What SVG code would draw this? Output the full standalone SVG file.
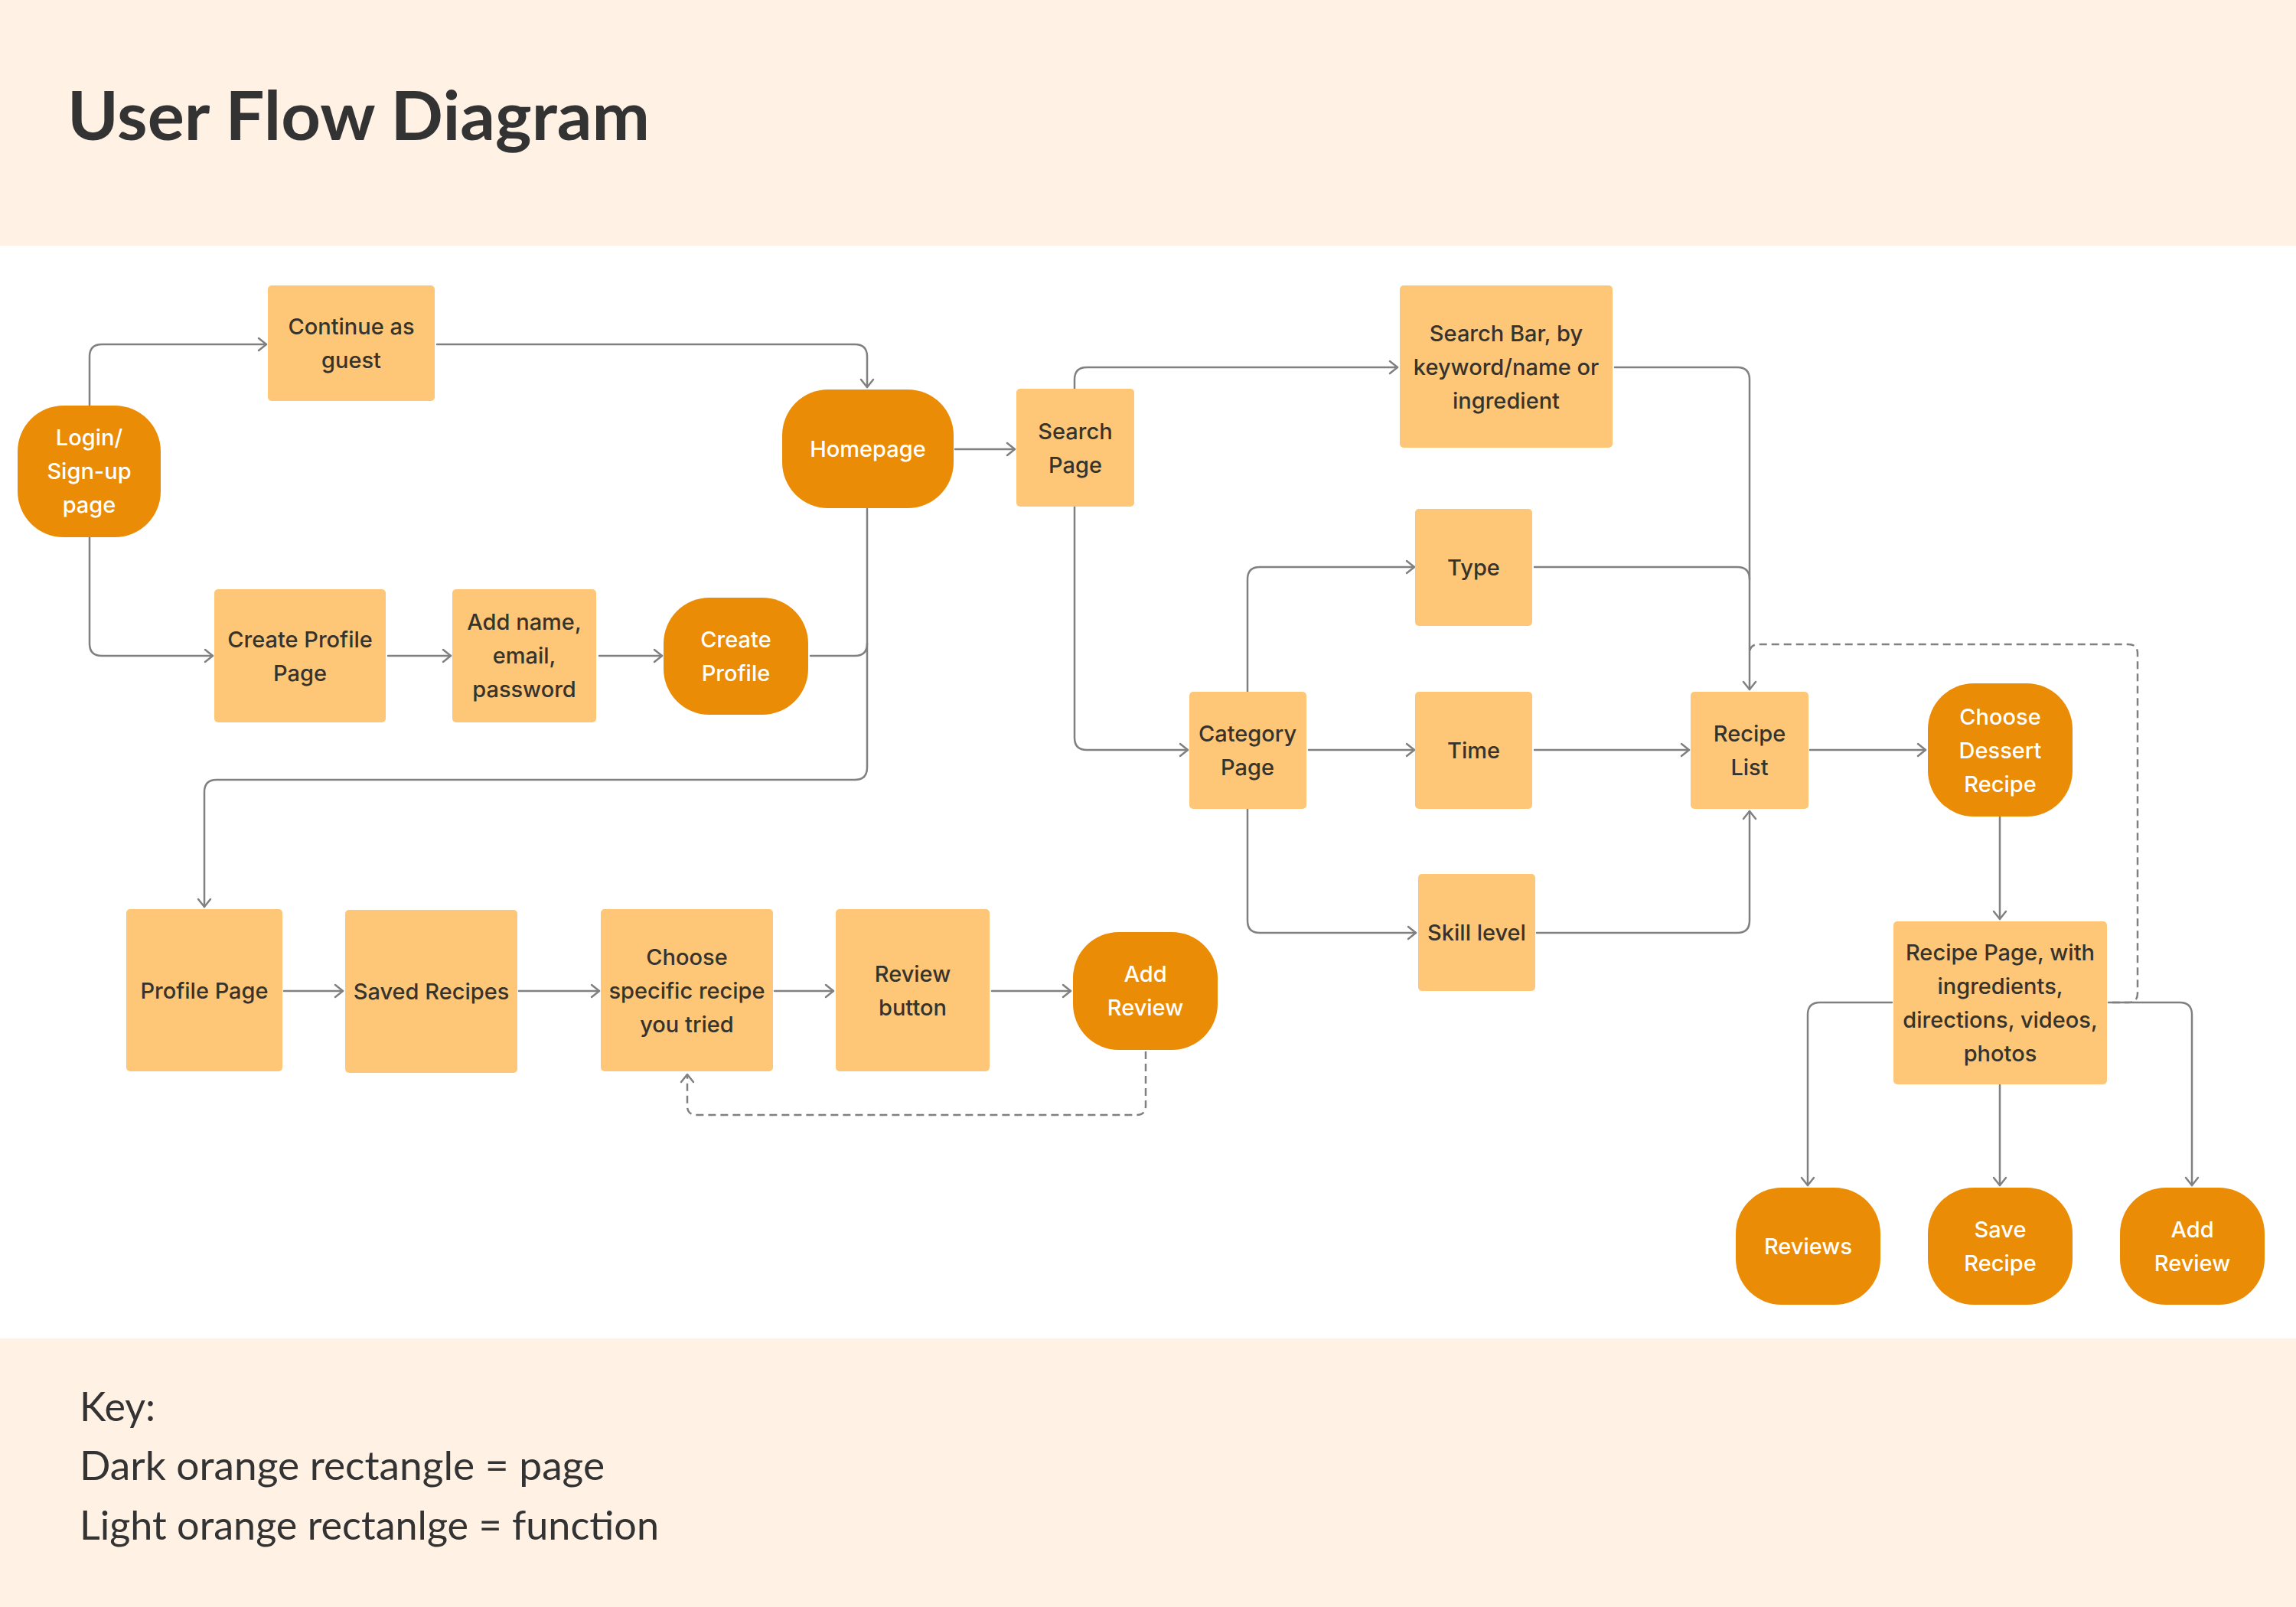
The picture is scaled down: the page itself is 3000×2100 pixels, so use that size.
<svg xmlns="http://www.w3.org/2000/svg" width="3000" height="2100" viewBox="0 0 3000 2100">
<defs>
<style>
.band{fill:#FFF1E3}
.dark{fill:#EA8C05}
.light{fill:#FEC778}
.tl{font-family:Inter,"Liberation Sans",sans-serif;font-size:29px;font-weight:500;fill:#36332c;text-anchor:middle}
.td{font-family:Inter,"Liberation Sans",sans-serif;font-size:29px;font-weight:500;fill:#ffffff;text-anchor:middle}
.c{fill:none;stroke:#808080;stroke-width:2.5;stroke-linecap:round;stroke-linejoin:round}
.arr{marker-end:url(#ah)}
.dash{stroke-dasharray:10 6;stroke-linecap:butt}
.title{font-family:Lato,"Liberation Sans",sans-serif;font-size:88px;font-weight:700;fill:#333333}
.key{font-family:Lato,"Liberation Sans",sans-serif;font-size:52px;font-weight:400;fill:#333333}
</style>
<marker id="ah" markerUnits="userSpaceOnUse" viewBox="-14 -12 18 24" markerWidth="18" markerHeight="24" refX="0" refY="0" orient="auto">
<path d="M-10,-8 L0,0 L-10,8" fill="none" stroke="#808080" stroke-width="2.5" stroke-linecap="round" stroke-linejoin="round"/>
</marker>
</defs>
<rect x="0" y="0" width="3000" height="2100" fill="#ffffff"/>
<rect class="band" x="0" y="0" width="3000" height="321"/>
<rect class="band" x="0" y="1749" width="3000" height="351"/>
<text class="title" x="88" y="183" textLength="761" lengthAdjust="spacingAndGlyphs">User Flow Diagram</text>
<g id="key">
<text class="key" x="104" y="1857">Key:</text>
<text class="key" x="104" y="1934" textLength="686" lengthAdjust="spacingAndGlyphs">Dark orange rectangle = page</text>
<text class="key" x="104" y="2012" textLength="757" lengthAdjust="spacingAndGlyphs">Light orange rectanlge = function</text>
</g>

<g id="connectors">
<path class="c arr" d="M117,530 V466 Q117,450 133,450 H348"/>
<path class="c arr" d="M571,450 H1117 Q1133,450 1133,466 V506"/>
<path class="c arr" d="M117,702 V841 Q117,857 133,857 H278"/>
<path class="c arr" d="M507,857 H589"/>
<path class="c arr" d="M783,857 H865"/>
<path class="c" d="M1059,857 H1117 Q1133,857 1133,841"/>
<path class="c arr" d="M1133,665 V1003 Q1133,1019 1117,1019 H283 Q267,1019 267,1035 V1185"/>
<path class="c arr" d="M371,1295 H448"/>
<path class="c arr" d="M678,1295 H783"/>
<path class="c arr" d="M1012,1295 H1089"/>
<path class="c arr" d="M1296,1295 H1399"/>
<path class="c dash arr" d="M1497,1374 V1445 Q1497,1457 1485,1457 H910 Q898,1457 898,1445 V1404"/>
<path class="c arr" d="M1248,587 H1326"/>
<path class="c arr" d="M1404,508 V496 Q1404,480 1420,480 H1826"/>
<path class="c arr" d="M2110,480 H2270 Q2286,480 2286,496 V901"/>
<path class="c arr" d="M1404,662 V964 Q1404,980 1420,980 H1552"/>
<path class="c arr" d="M1630,904 V757 Q1630,741 1646,741 H1848"/>
<path class="c arr" d="M1710,980 H1848"/>
<path class="c arr" d="M1630,1057 V1203 Q1630,1219 1646,1219 H1850"/>
<path class="c" d="M2005,741 H2270 Q2286,741 2286,757"/>
<path class="c arr" d="M2005,980 H2207"/>
<path class="c arr" d="M2008,1219 H2270 Q2286,1219 2286,1203 V1060"/>
<path class="c arr" d="M2365,980 H2516"/>
<path class="c arr" d="M2613,1068 V1201"/>
<path class="c arr" d="M2472,1310 H2378 Q2362,1310 2362,1326 V1549"/>
<path class="c arr" d="M2613,1418 V1549"/>
<path class="c arr" d="M2755,1310 H2848 Q2864,1310 2864,1326 V1549"/>
<path class="c dash" d="M2760,1310 H2781 Q2793,1310 2793,1298 V854 Q2793,842 2781,842 H2298 Q2286,842 2286,854"/>
</g>

<g id="login"><rect class="dark" x="23" y="530" width="187" height="172" rx="60"/>
<text class="td" x="116.5" y="582">Login/</text><text class="td" x="116.5" y="626">Sign-up</text><text class="td" x="116.5" y="670">page</text></g>
<g id="guest"><rect class="light" x="350" y="373" width="218" height="151" rx="5"/>
<text class="tl" x="459" y="437">Continue as</text><text class="tl" x="459" y="481">guest</text></g>
<g id="homepage"><rect class="dark" x="1022" y="509" width="224" height="155" rx="60"/>
<text class="td" x="1134" y="597">Homepage</text></g>
<g id="searchpage"><rect class="light" x="1328" y="508" width="154" height="154" rx="5"/>
<text class="tl" x="1405" y="574">Search</text><text class="tl" x="1405" y="618">Page</text></g>
<g id="searchbar"><rect class="light" x="1829" y="373" width="278" height="212" rx="5"/>
<text class="tl" x="1968" y="446">Search Bar, by</text><text class="tl" x="1968" y="490">keyword/name or</text><text class="tl" x="1968" y="534">ingredient</text></g>
<g id="type"><rect class="light" x="1849" y="665" width="153" height="153" rx="5"/>
<text class="tl" x="1925.5" y="752">Type</text></g>
<g id="time"><rect class="light" x="1849" y="904" width="153" height="153" rx="5"/>
<text class="tl" x="1925.5" y="991">Time</text></g>
<g id="skill"><rect class="light" x="1853" y="1142" width="153" height="153" rx="5"/>
<text class="tl" x="1929.5" y="1229">Skill level</text></g>
<g id="category"><rect class="light" x="1554" y="904" width="153" height="153" rx="5"/>
<text class="tl" x="1630" y="969">Category</text><text class="tl" x="1630" y="1013">Page</text></g>
<g id="recipelist"><rect class="light" x="2209" y="904" width="154" height="153" rx="5"/>
<text class="tl" x="2286" y="969">Recipe</text><text class="tl" x="2286" y="1013">List</text></g>
<g id="dessert"><rect class="dark" x="2519" y="893" width="189" height="174" rx="60"/>
<text class="td" x="2613.5" y="947">Choose</text><text class="td" x="2613.5" y="991">Dessert</text><text class="td" x="2613.5" y="1035">Recipe</text></g>
<g id="recipepage"><rect class="light" x="2474" y="1204" width="279" height="213" rx="5"/>
<text class="tl" x="2613.5" y="1255">Recipe Page, with</text><text class="tl" x="2613.5" y="1299">ingredients,</text><text class="tl" x="2613.5" y="1343">directions, videos,</text><text class="tl" x="2613.5" y="1387">photos</text></g>
<g id="reviews"><rect class="dark" x="2268" y="1552" width="189" height="153" rx="60"/>
<text class="td" x="2362.5" y="1639">Reviews</text></g>
<g id="saverecipe"><rect class="dark" x="2519" y="1552" width="189" height="153" rx="60"/>
<text class="td" x="2613.5" y="1617">Save</text><text class="td" x="2613.5" y="1661">Recipe</text></g>
<g id="addreview2"><rect class="dark" x="2770" y="1552" width="189" height="153" rx="60"/>
<text class="td" x="2864.5" y="1617">Add</text><text class="td" x="2864.5" y="1661">Review</text></g>
<g id="createprofilepage"><rect class="light" x="280" y="770" width="224" height="174" rx="5"/>
<text class="tl" x="392" y="846">Create Profile</text><text class="tl" x="392" y="890">Page</text></g>
<g id="addname"><rect class="light" x="591" y="770" width="188" height="174" rx="5"/>
<text class="tl" x="685" y="823">Add name,</text><text class="tl" x="685" y="867">email,</text><text class="tl" x="685" y="911">password</text></g>
<g id="createprofile"><rect class="dark" x="867" y="781" width="189" height="153" rx="60"/>
<text class="td" x="961.5" y="846">Create</text><text class="td" x="961.5" y="890">Profile</text></g>
<g id="profilepage"><rect class="light" x="165" y="1188" width="204" height="212" rx="5"/>
<text class="tl" x="267" y="1305">Profile Page</text></g>
<g id="savedrecipes"><rect class="light" x="451" y="1189" width="225" height="213" rx="5"/>
<text class="tl" x="563.5" y="1306">Saved Recipes</text></g>
<g id="choosespecific"><rect class="light" x="785" y="1188" width="225" height="212" rx="5"/>
<text class="tl" x="897.5" y="1261">Choose</text><text class="tl" x="897.5" y="1305">specific recipe</text><text class="tl" x="897.5" y="1349">you tried</text></g>
<g id="reviewbutton"><rect class="light" x="1092" y="1188" width="201" height="212" rx="5"/>
<text class="tl" x="1192.5" y="1283">Review</text><text class="tl" x="1192.5" y="1327">button</text></g>
<g id="addreview1"><rect class="dark" x="1402" y="1218" width="189" height="154" rx="60"/>
<text class="td" x="1496.5" y="1283">Add</text><text class="td" x="1496.5" y="1327">Review</text></g>
</svg>
